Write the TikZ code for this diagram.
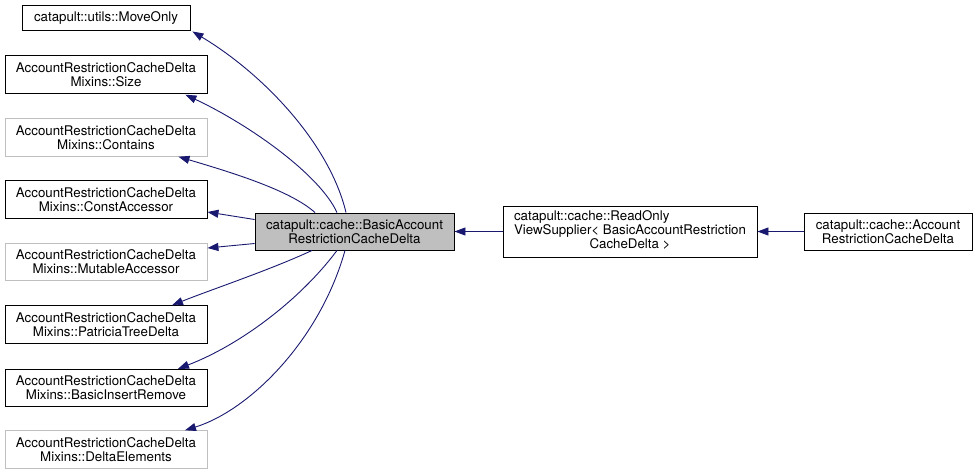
\documentclass[tikz,border=0pt]{standalone}
\usepackage{fontspec}
\setmainfont{TeX Gyre Heros}
\usetikzlibrary{arrows.meta}
\definecolor{edgeblue}{HTML}{191970}
\definecolor{grayline}{HTML}{BFBFBF}
\begin{document}
\begin{tikzpicture}[x=1pt,y=-1pt,
  box/.style={draw=black,line width=0.9pt,inner sep=0pt,align=center,
    font=\fontsize{13.3}{13.8}\selectfont},
  leftbox/.style={box,minimum width=202pt,minimum height=37.5pt},
  greybox/.style={leftbox,draw=grayline},
  edge/.style={draw=edgeblue,line width=0.9pt,-{Triangle[length=11pt,width=8pt]}}]
\useasboundingbox (0,0) rectangle (977,475);
\node[box,minimum width=168pt,minimum height=25pt] (mo) at (106,17.5) {catapult::utils::MoveOnly};
\node[leftbox] (sz) at (106,74.5) {AccountRestrictionCacheDelta\\Mixins::Size};
\node[greybox] (ct) at (106,137.5) {AccountRestrictionCacheDelta\\Mixins::Contains};
\node[leftbox] (ca) at (106,199.5) {AccountRestrictionCacheDelta\\Mixins::ConstAccessor};
\node[greybox] (ma) at (106,262) {AccountRestrictionCacheDelta\\Mixins::MutableAccessor};
\node[leftbox] (pt) at (106,324.5) {AccountRestrictionCacheDelta\\Mixins::PatriciaTreeDelta};
\node[leftbox] (bi) at (106,388) {AccountRestrictionCacheDelta\\Mixins::BasicInsertRemove};
\node[greybox] (de) at (106,449.5) {AccountRestrictionCacheDelta\\Mixins::DeltaElements};
\node[box,fill=grayline,minimum width=199pt,minimum height=37pt] (c) at (354.5,231.5)
  {catapult::cache::BasicAccount\\RestrictionCacheDelta};
\node[box,minimum width=254pt,minimum height=51pt,font=\fontsize{13.3}{13.3}\selectfont] (ro) at (630,231.5)
  {\begin{tabular}{@{}c@{}}\multicolumn{1}{@{}l@{}}{catapult::cache::ReadOnly}\\
   ViewSupplier< BasicAccountRestriction\\CacheDelta >\end{tabular}};
\node[box,minimum width=168pt,minimum height=37pt] (ac) at (888,231.5)
  {catapult::cache::Account\\RestrictionCacheDelta};
\draw[edge] ([xshift=-8.5pt]c.north) .. controls (330,145) and (265,75) .. ([xshift=2pt,yshift=-1pt]mo.south east);
\draw[edge] ([xshift=-17.5pt]c.north) .. controls (320,175) and (250,125) .. ([xshift=-22pt,yshift=-1pt]sz.south east);
\draw[edge] ([xshift=-39.5pt]c.north) .. controls (290,190) and (230,172) .. ([xshift=-29pt]ct.south east);
\draw[edge] ([yshift=12pt]c.west) -- ([yshift=-12.5pt]ca.east);
\draw[edge] ([yshift=-12pt]c.west) -- ([yshift=14pt]ma.east);
\draw[edge] ([xshift=-42.5pt]c.south) .. controls (270,270) and (210,290) .. ([xshift=66pt]pt.north);
\draw[edge] ([xshift=-17.5pt]c.south) .. controls (300,300) and (240,345) .. ([xshift=72pt]bi.north);
\draw[edge] ([xshift=-9.5pt]c.south) .. controls (320,340) and (250,410) .. ([xshift=79pt]de.north);
\draw[edge] (ro.west) -- (c.east);
\draw[edge] (ac.west) -- (ro.east);
\end{tikzpicture}
\end{document}
